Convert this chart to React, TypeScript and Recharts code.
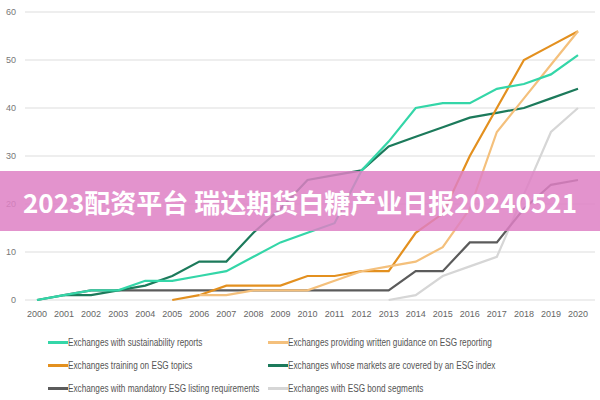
import React from 'react';
import { LineChart, Line, XAxis, YAxis, CartesianGrid } from 'recharts';

const years = [2000, 2001, 2002, 2003, 2004, 2005, 2006, 2007, 2008, 2009, 2010, 2011, 2012, 2013, 2014, 2015, 2016, 2017, 2018, 2019, 2020];

const sustainability = [0, 1, 2, 2, 4, 4, 5, 6, 9, 12, 14, 16, 27, 33, 40, 41, 41, 44, 45, 47, 51];
const writtenGuidance = [null, null, null, null, null, null, 1, 1, 2, 2, 2, 4, 6, 7, 8, 11, 19, 35, 42, 49, 56];
const training = [null, null, null, null, null, 0, 1, 3, 3, 3, 5, 5, 6, 6, 14, 18, 30, 40, 50, 53, 56];
const esgIndex = [0, 1, 1, 2, 3, 5, 8, 8, 14, 19, 25, 26, 27, 32, 34, 36, 38, 39, 40, 42, 44];
const mandatory = [null, 1, 2, 2, 2, 2, 2, 2, 2, 2, 2, 2, 2, 2, 6, 6, 12, 12, 19, 24, 25];
const bondSegments = [null, null, null, null, null, null, null, null, null, null, null, null, null, 0, 1, 5, 7, 9, 22, 35, 40];

const yTicks = [0, 10, 20, 30, 40, 50, 60];

const seriesNames = {
  sustainability: 'Exchanges with sustainability reports',
  writtenGuidance: 'Exchanges providing written guidance on ESG reporting',
  training: 'Exchanges training on ESG topics',
  esgIndex: 'Exchanges whose markets are covered by an ESG index',
  mandatory: 'Exchanges with mandatory ESG listing requirements',
  bondSegments: 'Exchanges with ESG bond segments',
};

const colors = {
  sustainability: '#34d6a8',
  writtenGuidance: '#f4c07c',
  training: '#e3901f',
  esgIndex: '#1c7a5b',
  mandatory: '#5b5b5b',
  bondSegments: '#d6d6d6',
};

const legendOrder = ['sustainability', 'writtenGuidance', 'training', 'esgIndex', 'mandatory', 'bondSegments'] as const;

const data = years.map((y, i) => ({
  year: y,
  sustainability: sustainability[i],
  writtenGuidance: writtenGuidance[i],
  training: training[i],
  esgIndex: esgIndex[i],
  mandatory: mandatory[i],
  bondSegments: bondSegments[i],
}));

const tickFont = '"Liberation Sans", Arial, sans-serif';

const LegendBlock = () => (
  <div
    style={{
      position: 'absolute',
      left: 48,
      top: 334,
      display: 'grid',
      gridTemplateColumns: '220px 320px',
      rowGap: 7,
      fontFamily: tickFont,
      fontSize: 10,
      color: '#555',
    }}
  >
    {legendOrder.map((k) => (
      <div key={k} style={{ display: 'flex', alignItems: 'center', height: 16, whiteSpace: 'nowrap' }}>
        <span style={{ display: 'inline-block', width: 20, height: 3, background: colors[k], flex: 'none' }} />
        <span style={{ display: 'inline-block', transform: 'scaleX(0.82)', transformOrigin: 'left center' }}>
          {seriesNames[k]}
        </span>
      </div>
    ))}
  </div>
);

export default function App() {
  return (
    <div style={{ position: 'absolute', left: 0, top: 0, width: 600, height: 400, background: '#fff', overflow: 'hidden' }}>
      <LineChart width={600} height={400} data={data} margin={{ top: 12, right: 5, bottom: 80, left: 0 }}>
        <CartesianGrid horizontal vertical={false} stroke="#dedede" strokeWidth={1.2} />
        <XAxis
          dataKey="year"
          type="category"
          axisLine={false}
          tickLine={false}
          tickSize={0}
          tickMargin={11}
          padding={{ left: 12, right: 17 }}
          interval={0}
          height={20}
          tick={{ fontSize: 9, fill: '#666', fontFamily: tickFont }}
        />
        <YAxis
          width={25}
          domain={[0, 60]}
          ticks={yTicks}
          axisLine={false}
          tickLine={false}
          tickSize={0}
          tickMargin={9}
          tick={{ fontSize: 9, fill: '#777', fontFamily: tickFont }}
        />
        {legendOrder.slice().reverse().map((k) => (
          <Line
            key={k}
            type="linear"
            dataKey={k}
            name={seriesNames[k]}
            stroke={colors[k]}
            strokeWidth={2.2}
            dot={false}
            connectNulls={false}
            isAnimationActive={false}
          />
        ))}
      </LineChart>
      <LegendBlock />
      <div
        style={{
          position: 'absolute',
          left: 0,
          top: 171,
          width: 600,
          height: 60,
          background: 'rgba(222, 128, 196, 0.85)',
          color: '#fff',
          fontFamily: '"Noto Sans CJK SC", "Noto Sans", sans-serif',
          fontWeight: 700,
          fontSize: 26,
          display: 'flex',
          alignItems: 'center',
          justifyContent: 'center',
          whiteSpace: 'nowrap',
        }}
      >
        2023配资平台 瑞达期货白糖产业日报20240521
      </div>
    </div>
  );
}
